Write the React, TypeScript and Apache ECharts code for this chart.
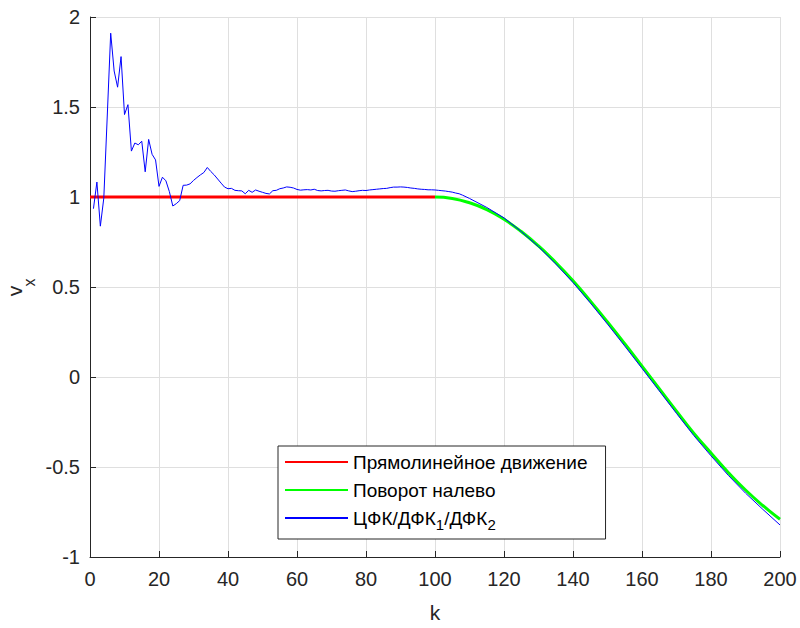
import React, { useEffect, useRef } from 'react';
import * as echarts from 'echarts';

// Series names
const seriesNames = ['Прямолинейное движение', 'Поворот налево', 'ЦФК/ДФК1/ДФК2'];

// Straight motion (red)
const redK = [0, 100];
const redV = [1, 1];

// Left turn (green)
const greenK = [100, 105, 110, 115, 120, 125, 130, 135, 140, 145, 150, 155, 160, 165, 170, 175, 180, 185, 190, 195, 200];
const greenV = [1.0, 0.992, 0.968, 0.93, 0.876, 0.808, 0.728, 0.636, 0.535, 0.423, 0.306, 0.185, 0.06, -0.065, -0.19, -0.312, -0.422, -0.53, -0.628, -0.714, -0.79];

// Filter estimate (blue)
const blueK = [
  1, 2, 3, 4, 5, 6, 7, 8, 9, 10, 11, 12, 13, 14, 15, 16, 17, 18, 19, 20,
  21, 22, 23, 24, 25, 26, 27, 28, 29, 30, 31, 32, 33, 34, 35, 36, 37, 38, 39, 40,
  41, 42, 43, 44, 45, 46, 47, 48, 49, 50, 51, 52, 53, 54, 55, 56, 57, 58, 59, 60,
  61, 62, 63, 64, 65, 66, 67, 68, 69, 70, 71, 72, 73, 74, 75, 76, 77, 78, 79, 80,
  81, 82, 83, 84, 85, 86, 87, 88, 89, 90, 91, 92, 93, 94, 95, 96, 97, 98, 99, 100,
  101, 102, 103, 104, 105, 106, 107, 108, 109, 110,
  115, 120, 125, 130, 135, 140, 145, 150, 155, 160, 165, 170, 175, 180, 185, 190, 195, 200,
];
const blueV = [
  0.935, 1.083, 0.838, 0.994, 1.45, 1.91, 1.7, 1.61, 1.78, 1.458, 1.513, 1.255, 1.3, 1.29, 1.31, 1.14, 1.32, 1.237, 1.206, 1.059,
  1.11, 1.09, 1.03, 0.95, 0.963, 0.98, 1.065, 1.066, 1.073, 1.092, 1.108, 1.123, 1.136, 1.164, 1.142, 1.123, 1.1, 1.077, 1.055, 1.046,
  1.048, 1.037, 1.035, 1.034, 1.018, 1.037, 1.026, 1.039, 1.032, 1.026, 1.02, 1.017, 1.035, 1.037, 1.046, 1.05, 1.056, 1.054, 1.05, 1.042,
  1.038, 1.04, 1.041, 1.039, 1.043, 1.036, 1.034, 1.036, 1.037, 1.033, 1.032, 1.035, 1.037, 1.039, 1.034, 1.03, 1.032, 1.035, 1.037, 1.036,
  1.039, 1.041, 1.043, 1.045, 1.047, 1.048, 1.052, 1.055, 1.055, 1.056, 1.055, 1.053, 1.05, 1.048, 1.045, 1.043, 1.042, 1.04, 1.04, 1.039,
  1.037, 1.035, 1.033, 1.03, 1.027, 1.022, 1.018, 1.01, 1.001, 0.992,
  0.942, 0.884, 0.808, 0.724, 0.628, 0.525, 0.412, 0.294, 0.172, 0.048, -0.077, -0.202, -0.325, -0.438, -0.546, -0.645, -0.735, -0.822,
];

const FONT = '"Liberation Sans", Arial, Helvetica, sans-serif';
const TXT = '#262626';
const LEG_FS = 19;

const zip = (ks: number[], vs: number[]) => ks.map((k, i) => [k, vs[i]]);

export default function App() {
  const ref = useRef<HTMLDivElement>(null);
  useEffect(() => {
    if (!ref.current) return;
    const chart = echarts.init(ref.current, undefined, { renderer: 'svg' });
    chart.setOption({
      animation: false,
      backgroundColor: '#ffffff',
      grid: { left: 90, right: 20, top: 17, bottom: 65, containLabel: false },
      xAxis: {
        type: 'value',
        min: 0,
        max: 200,
        interval: 20,
        name: 'k',
        nameLocation: 'middle',
        nameGap: 45,
        nameTextStyle: { fontFamily: FONT, fontSize: 21, color: TXT },
        axisLine: { show: true, onZero: false, lineStyle: { color: TXT, width: 1 } },
        axisTick: { show: true, inside: true, length: 6, lineStyle: { color: TXT } },
        axisLabel: { fontFamily: FONT, fontSize: 20, color: TXT, margin: 12 },
        splitLine: { show: true, lineStyle: { color: '#dfdfdf', width: 1 } },
      },
      yAxis: {
        type: 'value',
        min: -1,
        max: 2,
        interval: 0.5,
        axisLine: { show: true, onZero: false, lineStyle: { color: TXT, width: 1 } },
        axisTick: { show: true, inside: true, length: 6, lineStyle: { color: TXT } },
        axisLabel: { fontFamily: FONT, fontSize: 20, color: TXT, margin: 10 },
        splitLine: { show: true, lineStyle: { color: '#dfdfdf', width: 1 } },
      },
      legend: {
        orient: 'vertical',
        left: 278,
        top: 446,
        itemWidth: 63,
        itemHeight: 12,
        itemGap: 0,
        padding: [2, 18, 7, 6],
        borderColor: TXT,
        borderWidth: 1,
        backgroundColor: '#ffffff',
        selectedMode: false,
        itemStyle: { opacity: 0 },
        data: seriesNames,
        formatter: (name: string) => {
          if (name === seriesNames[2]) return '{a|ЦФК/ДФК}{s|1}{a|/ДФК}{s|2}';
          return '{a|' + name + '}';
        },
        textStyle: {
          fontFamily: FONT,
          fontSize: LEG_FS,
          color: '#000',
          lineHeight: 28,
          rich: {
            a: { fontFamily: FONT, fontSize: LEG_FS, color: '#000', lineHeight: 28 },
            s: { fontFamily: FONT, fontSize: 15, color: '#000', lineHeight: 10, verticalAlign: 'bottom' },
          },
        },
      },
      graphic: [
        {
          type: 'text',
          x: 14,
          y: 291,
          rotation: Math.PI / 2,
          style: { text: 'v', fontFamily: FONT, fontSize: 21, fill: TXT, textAlign: 'center', textVerticalAlign: 'middle' },
        },
        {
          type: 'text',
          x: 29,
          y: 282.5,
          rotation: Math.PI / 2,
          style: { text: 'x', fontFamily: FONT, fontSize: 16, fill: TXT, textAlign: 'center', textVerticalAlign: 'middle' },
        },
      ],
      series: [
        {
          name: seriesNames[0],
          type: 'line',
          data: zip(redK, redV),
          showSymbol: false,
          symbol: 'none',
          lineStyle: { color: '#ff0000', width: 3 },
          itemStyle: { color: '#ff0000' },
          z: 2,
        },
        {
          name: seriesNames[1],
          type: 'line',
          data: zip(greenK, greenV),
          smooth: true,
          showSymbol: false,
          symbol: 'none',
          lineStyle: { color: '#00ff00', width: 3 },
          itemStyle: { color: '#00ff00' },
          z: 3,
        },
        {
          name: seriesNames[2],
          type: 'line',
          data: zip(blueK, blueV),
          showSymbol: false,
          symbol: 'none',
          lineStyle: { color: '#0000ff', width: 1 },
          itemStyle: { color: '#0000ff' },
          z: 4,
        },
      ],
    });
    return () => chart.dispose();
  }, []);
  return <div ref={ref} style={{ width: 800, height: 628, position: 'absolute', left: 0, top: 0 }} />;
}
